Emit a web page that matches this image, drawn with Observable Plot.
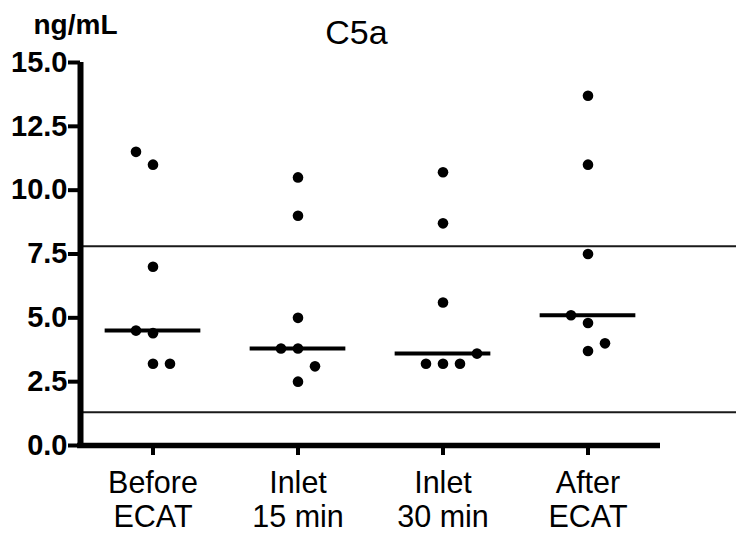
<!DOCTYPE html>
<html><head><meta charset="utf-8">
<script src="https://cdn.jsdelivr.net/npm/d3@7"></script>
<script src="https://cdn.jsdelivr.net/npm/@observablehq/plot@0.6"></script>
<style>body{margin:0;background:#fff} #chart{width:736px;height:534px}</style>
</head><body><div id="chart"></div>
<script>
// ---- data ----
const groups = ["Before\nECAT", "Inlet\n15 min", "Inlet\n30 min", "After\nECAT"];
const beforeECAT = [11.0, 11.5, 3.2, 3.2, 4.4, 4.5, 7.0];
const inlet15    = [2.5, 3.8, 3.8, 3.1, 5.0, 9.0, 10.5];
const inlet30    = [3.2, 3.2, 3.2, 3.6, 5.6, 8.7, 10.7];
const afterECAT  = [4.8, 5.1, 3.7, 4.0, 7.5, 11.0, 13.7];
const referenceRange = [1.3, 7.8];
const yTicks = [0, 2.5, 5, 7.5, 10, 12.5, 15];
const title = "C5a";
const unitLabel = "ng/mL";

const series = [beforeECAT, inlet15, inlet30, afterECAT];

// ---- scatter placement (slot-based dodge, like GraphPad column scatter) ----
const slotWidth = 17 / 145;   // category units per slot
const collide = 0.65;         // values closer than this share no slot
function dodge(vals) {
  const placed = [];
  return vals.map(v => {
    for (let ring = 0; ring < 10; ring++) {
      let cands;
      if (ring === 0) cands = [0];
      else {
        const nl = placed.filter(p => p.s < 0).length;
        const nr = placed.filter(p => p.s > 0).length;
        const first = nl < nr ? -ring : nl > nr ? ring : (ring % 2 ? -ring : ring);
        cands = [first, -first];
      }
      for (const s of cands) {
        if (!placed.some(p => p.s === s && Math.abs(p.v - v) < collide)) {
          placed.push({v, s});
          return s;
        }
      }
    }
    return 0;
  });
}

const points = series.flatMap((vals, gi) => {
  const slots = dodge(vals);
  return vals.map((v, i) => ({group: gi, value: v, slot: slots[i]}));
});
const medians = series.map((vals, gi) => ({group: gi, median: d3.median(vals)}));
const halfWidth = 0.33;
const x0 = -0.5, x1 = groups.length - 0.5;
const font = "Liberation Sans, Arial, Helvetica, sans-serif";

const plot = Plot.plot({
  width: 736, height: 534,
  marginTop: 62, marginBottom: 89, marginLeft: 80, marginRight: 0,
  style: {fontFamily: font, background: "#fff", color: "#000", overflow: "visible"},
  x: {domain: [x0, x1], range: [80, 660]},
  y: {domain: [0, 15]},
  marks: [
    Plot.ruleY(referenceRange, {stroke: "#1a1a1a", strokeWidth: 2}),
    Plot.axisY({ticks: yTicks, tickFormat: d3.format(".1f"), tickSize: 12, tickPadding: 1,
      fontSize: 29, fontWeight: "bold", strokeWidth: 4, label: null}),
    Plot.axisX({ticks: d3.range(groups.length), tickFormat: i => groups[i], tickSize: 10,
      tickPadding: 13, fontSize: 30.5, lineHeight: 1.12, strokeWidth: 4, label: null}),
    Plot.ruleX([x0], {y1: 0, y2: 15, strokeWidth: 6, stroke: "#000"}),
    Plot.ruleY([0], {x1: x0 - 0.02, x2: x1, strokeWidth: 5.5, stroke: "#000"}),
    Plot.ruleY(medians, {y: "median", x1: d => d.group - halfWidth, x2: d => d.group + halfWidth,
      strokeWidth: 4, stroke: "#000"}),
    Plot.dot(points, {x: d => d.group + d.slot * slotWidth, y: "value", r: 5.3, fill: "#000"}),
    Plot.text([title], {frameAnchor: "top", dx: -52, dy: -19, lineAnchor: "bottom",
      fontSize: 34, fill: "#000"}),
    Plot.text([unitLabel], {frameAnchor: "top-left", dx: -47, dy: -29, lineAnchor: "bottom",
      textAnchor: "start", fontSize: 28, fontWeight: "bold", fill: "#000"})
  ]
});
document.getElementById("chart").append(plot);
</script>
</body></html>
